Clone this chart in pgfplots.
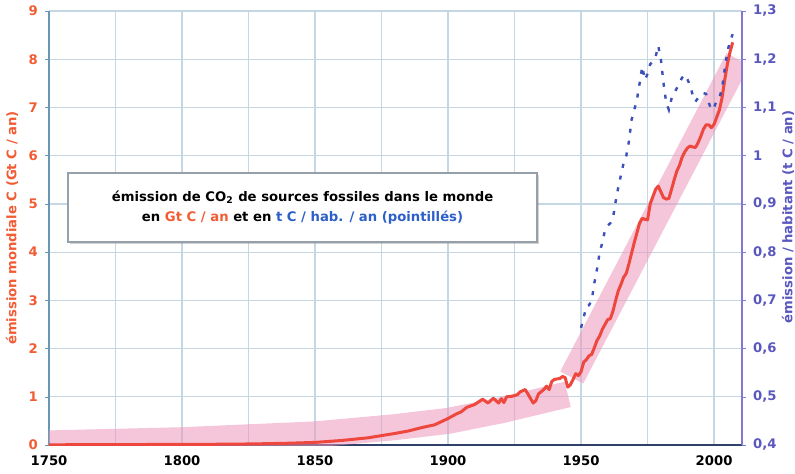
\documentclass[border=0pt]{standalone}
\usepackage{pgfplots}
\pgfplotsset{compat=1.18}
\usepackage{fontspec}
\setmainfont{DejaVu Sans}
\usetikzlibrary{shadows}
\definecolor{cred}{RGB}{238,72,62}
\definecolor{clab}{RGB}{242,92,52}
\definecolor{cblue}{RGB}{60,80,185}
\definecolor{cpurple}{RGB}{90,88,190}
\definecolor{cgrid}{RGB}{198,215,228}
\definecolor{cband}{RGB}{236,150,185}
\definecolor{ctext}{RGB}{45,95,200}

\pgfplotstableread{
year val
1750 0.003
1760 0.007
1770 0.008
1780 0.010
1790 0.011
1800 0.013
1810 0.015
1820 0.018
1830 0.026
1840 0.037
1850 0.054
1860 0.094
1870 0.150
1880 0.240
1885 0.290
1890 0.360
1895 0.420
1900 0.550
1903 0.640
1905 0.690
1907 0.780
1910 0.840
1913 0.950
1915 0.870
1917 0.970
1919 0.870
1920 0.960
1921 0.880
1922 1.000
1924 1.010
1926 1.040
1927 1.100
1929 1.150
1930 1.060
1932 0.870
1933 0.920
1934 1.060
1936 1.150
1937 1.220
1938 1.150
1939 1.320
1940 1.360
1942 1.380
1943 1.420
1944 1.400
1945 1.200
1946 1.250
1947 1.360
1948 1.480
1949 1.440
1950 1.520
1951 1.720
1952 1.770
1953 1.850
1954 1.880
1955 2.020
1956 2.170
1957 2.260
1958 2.400
1959 2.500
1960 2.600
1961 2.620
1962 2.780
1963 3.000
1964 3.200
1965 3.330
1966 3.480
1967 3.560
1968 3.760
1969 3.980
1970 4.200
1971 4.400
1972 4.600
1973 4.700
1974 4.680
1975 4.670
1976 5.000
1977 5.150
1978 5.300
1979 5.370
1980 5.250
1981 5.130
1982 5.100
1983 5.110
1984 5.300
1985 5.500
1986 5.680
1987 5.800
1988 5.970
1989 6.080
1990 6.160
1991 6.200
1992 6.180
1993 6.170
1994 6.270
1995 6.400
1996 6.550
1997 6.640
1998 6.640
1999 6.580
2000 6.650
2001 6.800
2002 6.950
2003 7.200
2004 7.570
2005 7.900
2006 8.150
2007 8.350
}\emis

\pgfplotstableread{
year val
1950 0.643
1951 0.665
1952 0.688
1953 0.690
1954 0.700
1955 0.736
1956 0.765
1957 0.800
1958 0.820
1959 0.846
1960 0.855
1961 0.860
1962 0.871
1963 0.905
1964 0.935
1965 0.960
1966 0.985
1967 1.000
1968 1.030
1969 1.075
1970 1.095
1971 1.116
1972 1.150
1973 1.185
1974 1.157
1975 1.170
1976 1.190
1977 1.195
1978 1.205
1979 1.228
1980 1.200
1981 1.150
1982 1.110
1983 1.095
1984 1.118
1985 1.130
1986 1.140
1987 1.151
1988 1.162
1989 1.168
1990 1.158
1991 1.145
1992 1.125
1993 1.112
1994 1.120
1995 1.125
1996 1.130
1997 1.128
1998 1.110
1999 1.095
2000 1.100
2001 1.115
2002 1.120
2003 1.140
2004 1.180
2005 1.215
2006 1.238
2007 1.252
}\percap

\begin{document}
\begin{tikzpicture}
\path[use as bounding box] (-24.5pt,-14pt) rectangle (373pt,222.5pt);
\pgfplotsset{
  base/.style={
    scale only axis, width=346.5pt, height=217pt,
    xmin=1750, xmax=2010.5,
    /pgf/number format/assume math mode=true,
    tick label style={font=\bfseries\fontsize{6.6}{7}\selectfont},
    label style={font=\bfseries\fontsize{6.6}{7}\selectfont},
    tick align=outside, major tick length=2pt,
  }
}
\begin{axis}[base,
  ymin=0, ymax=9,
  axis y line*=left, axis x line*=bottom,
  xtick={1750,1800,...,2000},
  minor xtick={1775,1825,1875,1925,1975},
  ytick={0,1,...,9},
  grid=both,
  major grid style={cgrid, line width=0.6pt},
  minor grid style={cgrid, line width=0.6pt},
  xticklabel style={/pgf/number format/1000 sep={}, black},
  yticklabel style={clab},
  x axis line style={draw={rgb,255:red,45;green,65;blue,105}, line width=0.7pt},
  y axis line style={draw={rgb,255:red,105;green,150;blue,180}, line width=0.7pt},
  xtick style={draw=none},
  ytick style={draw={rgb,255:red,105;green,150;blue,180}},
  ylabel={émission mondiale C (Gt C / an)},
  ylabel style={clab, at={(axis description cs:0,0.5)}, anchor=center, rotate=0, yshift=18.5pt},
]
\addplot[cband, opacity=0.55, line width=13pt, line join=round] coordinates {
 (1740,0.02) (1800,0.10) (1850,0.22) (1880,0.37) (1900,0.50) (1920,0.72) (1945,1.05)};
\addplot[cband, opacity=0.55, line width=13pt] coordinates {(1946.5,1.4) (2009,8.0)};
\addplot[cred, line width=1.5pt, line join=round] table[x=year,y=val] {\emis};
\node[draw={rgb,255:red,150;green,160;blue,170}, fill=white, line width=0.6pt,
  drop shadow={shadow xshift=1.2pt, shadow yshift=-1.2pt, opacity=0.35},
  minimum width=234.5pt, minimum height=34.5pt, align=center,
  font=\bfseries\fontsize{6.6}{10}\selectfont]
  at (axis cs:1845.3,4.925)
  {émission de CO\textsubscript{2} de sources fossiles dans le monde\\
   en \textcolor{clab}{Gt C / an} et en \textcolor{ctext}{t C / hab. / an (pointillés)}};
\end{axis}
\begin{axis}[base,
  ymin=0.4, ymax=1.3,
  axis y line*=right, axis x line=none,
  ytick={0.4,0.5,...,1.3},
  yticklabels={{0,4},{0,5},{0,6},{0,7},{0,8},{0,9},1,{1,1},{1,2},{1,3}},
  yticklabel style={cpurple},
  y axis line style={draw={rgb,255:red,130;green,120;blue,210}, line width=0.7pt},
  ytick style={draw={rgb,255:red,130;green,120;blue,210}},
  ylabel={émission / habitant (t C / an)},
  ylabel style={cpurple, at={(axis description cs:1,0.5)}, anchor=center, xshift=5.5pt, yshift=-23pt},
]
\addplot[cblue, line width=1.2pt, dash pattern=on 2pt off 4pt] table[x=year,y=val] {\percap};
\end{axis}
\end{tikzpicture}
\end{document}
